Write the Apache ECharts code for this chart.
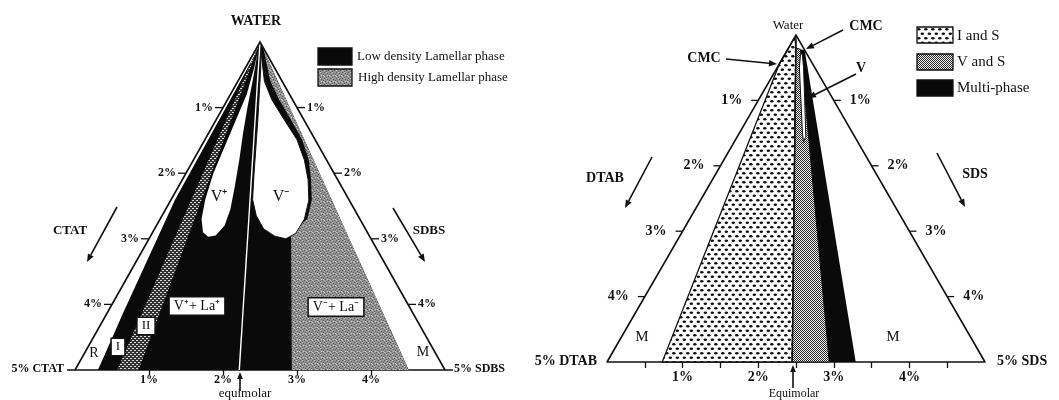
<!DOCTYPE html>
<html>
<head>
<meta charset="utf-8">
<script src="https://cdn.jsdelivr.net/npm/echarts@6/dist/echarts.min.js"></script>
<style>
  html, body { margin: 0; padding: 0; background: #fff; }
  #chart { width: 1059px; height: 400px; }
</style>
</head>
<body>
<div id="chart"></div>
<script>
// ---------------------------------------------------------------
// Water-rich corners of two catanionic phase diagrams.
// Every point is a composition [cationic wt %, anionic wt %];
// water makes up the rest. The triangles span 0-5 % surfactant.
// ---------------------------------------------------------------

// ---- CTAT / SDBS / water ----
const catOutline      = [[5, 0], [0, 0], [0, 5]];
const catLamellar     = [[0, 0], [0.17, 0.03], [0.96, 0.04], [2.355, 0.055], [3.915, 0.215],
                         [4.69, 0.31], [0.49, 4.51]];                   // low density lamellar
const catBandII       = [[0, 0], [4.43, 0.57], [4.14, 0.86]];          // region II strip
const catHighDensity  = [[2.07, 2.93], [0.49, 4.51], [0.01, 0.11], [0.16, 0.44], [0.18, 0.70],
                         [0.175, 1.015], [0.175, 1.315], [0.24, 1.56], [0.36, 1.74], [0.505, 1.905],
                         [0.71, 1.99], [1.03, 1.87]];
const catVplus        = [[0.105, 0.045], [0.40, 0.20], [0.67, 0.33], [0.93, 0.47], [1.18, 0.62],
                         [1.44, 0.76], [1.675, 0.875], [1.88, 0.92], [2.075, 0.875], [2.185, 0.785],
                         [2.22, 0.68], [2.14, 0.56], [1.94, 0.46], [1.63, 0.37], [1.28, 0.32],
                         [0.93, 0.27], [0.58, 0.22], [0.28, 0.12]];
const catVminus       = [[0.05, 0.07], [0.24, 0.36], [0.28, 0.60], [0.265, 0.925], [0.245, 1.245],
                         [0.30, 1.50], [0.40, 1.70], [0.545, 1.865], [0.75, 1.95], [0.98, 1.94],
                         [1.15, 1.85], [1.28, 1.68], [1.375, 1.475], [1.375, 1.275], [1.30, 1.10],
                         [1.08, 0.92], [0.855, 0.745], [0.63, 0.57], [0.41, 0.39], [0.19, 0.21]];
const catEquimolar    = [[0, 0], [2.78, 2.22]];
const catSideTicks    = [1, 2, 3, 4];
const catBaseTicks    = [1, 2, 3, 4];

// ---- DTAB / SDS / water ----
const dsOutline       = [[5, 0], [0, 0], [0, 5]];
const dsIandS         = [[0.05, 0], [0.43, 0], [4.27, 0.73], [2.55, 2.45], [0.06, 0.058]];
const dsVandS         = [[0.102, 0.098], [0.05, 0.17], [2.06, 2.94], [2.55, 2.45]];
const dsMulti         = [[0.05, 0.17], [0, 0.23], [1.71, 3.29], [2.06, 2.94]];
const dsVesicle       = [[0.08, 0.20], [0.205, 0.295], [0.435, 0.565], [0.665, 0.835], [0.72, 0.92],
                         [0.645, 0.905], [0.385, 0.615], [0.15, 0.35], [0.065, 0.235]];
const dsEquimolar     = [[0, 0], [2.55, 2.45]];
const dsSideTicks     = [1, 2, 3, 4];
const dsBaseTicks     = [0.5, 1, 1.5, 2, 2.5, 3, 3.5, 4, 4.5];
const dsBaseLabels    = [1, 2, 3, 4];

// composition -> [position along the base (%), height above the 5 % line]
const toXY = ([c, s]) => [2.5 + (s - c) / 2, 5 - c - s];

const SERIF = '"Liberation Serif", "Times New Roman", serif';
const INK = '#111';

// ---- fill textures ----
function tile(w, h, paint) {
  const cv = document.createElement('canvas');
  cv.width = w; cv.height = h;
  paint(cv.getContext('2d'));
  return { image: cv, repeat: 'repeat' };
}
const speckleGray = tile(6, 6, g => {
  g.fillStyle = '#929292'; g.fillRect(0, 0, 6, 6);
  g.fillStyle = '#5a5a5a';
  [[0, 0], [3, 1], [1, 3], [4, 4], [5, 2], [2, 5]].forEach(([x, y]) => g.fillRect(x, y, 1, 1));
  g.fillStyle = '#cacaca';
  [[2, 0], [5, 3], [0, 4], [3, 3]].forEach(([x, y]) => g.fillRect(x, y, 1, 1));
});
const dottedDark = tile(4, 4, g => {
  g.fillStyle = '#333'; g.fillRect(0, 0, 4, 4);
  g.fillStyle = '#d8d8d8';
  g.fillRect(0, 0, 2, 1); g.fillRect(2, 2, 2, 1);
});
const dotsOnWhite = tile(7, 9, g => {
  g.fillStyle = '#fff'; g.fillRect(0, 0, 7, 9);
  g.fillStyle = '#111';
  g.beginPath(); g.ellipse(1.8, 2.2, 1.75, 1.3, 0, 0, Math.PI * 2); g.fill();
  g.beginPath(); g.ellipse(5.3, 6.7, 1.75, 1.3, 0, 0, Math.PI * 2); g.fill();
});
const zigzag = tile(4, 4, g => {
  g.fillStyle = '#f2f2f2'; g.fillRect(0, 0, 4, 4);
  g.fillStyle = '#2a2a2a';
  [[0, 0], [1, 1], [2, 0], [3, 1], [0, 2], [1, 3], [2, 2], [3, 3]].forEach(([x, y]) => g.fillRect(x, y, 1, 1));
});

// ---- series builders ----
let zCount = 1;
function polygon(grid, pts, style, closed = true) {
  return {
    type: 'custom', coordinateSystem: 'cartesian2d',
    xAxisIndex: grid, yAxisIndex: grid, silent: true, clip: false, z: zCount++,
    data: [[0, 0]],
    renderItem: (params, api) => ({
      type: closed ? 'polygon' : 'polyline',
      shape: { points: pts.map(p => api.coord(toXY(p))) },
      style: closed ? style : Object.assign({ fill: null }, style)
    })
  };
}
// percentage ticks on the two slanted sides
function sideTicks(grid, values, opt) {
  return {
    type: 'custom', coordinateSystem: 'cartesian2d',
    xAxisIndex: grid, yAxisIndex: grid, silent: true, clip: false, z: 50,
    data: values.map(v => [v, 0]),
    renderItem: (params, api) => {
      const v = api.value(0);
      const items = [];
      [[-1, [v, 0]], [1, [0, v]]].forEach(([dir, comp]) => {
        const [px, py] = api.coord(toXY(comp));
        items.push({ type: 'line',
          shape: { x1: px + dir * opt.inset, y1: py, x2: px + dir * (opt.inset + opt.len), y2: py },
          style: { stroke: INK, lineWidth: 1.3 } });
        items.push({ type: 'text',
          style: { text: v + '%', x: px + dir * (opt.inset + opt.len + opt.gap), y: py,
                   align: dir < 0 ? 'right' : 'left', verticalAlign: 'middle',
                   font: opt.font, fill: INK } });
      });
      return { type: 'group', children: items };
    }
  };
}

// ---- annotation helpers ----
function text(t, x, y, font, align = 'center', extra = {}) {
  return { type: 'text', z: 100, silent: true,
    style: Object.assign({ text: t, x, y, font, fill: INK, align, verticalAlign: 'middle' }, extra) };
}
function boxed(t, x, y, font) {
  return text(t, x, y, font, 'center', {
    backgroundColor: '#fff', borderColor: INK, borderWidth: 1.5, padding: [2, 4, 1, 4]
  });
}
function arrow(x1, y1, x2, y2, head = 8) {
  const a = Math.atan2(y2 - y1, x2 - x1);
  const hx = x2 - head * Math.cos(a), hy = y2 - head * Math.sin(a);
  const w = head * 0.4;
  return [
    { type: 'line', z: 100, silent: true, shape: { x1, y1, x2: hx, y2: hy }, style: { stroke: INK, lineWidth: 1.6 } },
    { type: 'polygon', z: 100, silent: true,
      shape: { points: [[x2, y2], [hx + w * Math.sin(a), hy - w * Math.cos(a)], [hx - w * Math.sin(a), hy + w * Math.cos(a)]] },
      style: { fill: INK } }
  ];
}
function swatch(x, y, w, h, fill) {
  return { type: 'rect', z: 100, silent: true, shape: { x, y, width: w, height: h },
           style: { fill, stroke: INK, lineWidth: 1.3 } };
}

const tickFontL = 'bold 12px ' + SERIF;
const tickFontR = 'bold 14px ' + SERIF;

const option = {
  animation: false,
  backgroundColor: '#fff',
  grid: [
    { left: 67.6, top: 42, width: 384.8, height: 328 },
    { left: 607, top: 35, width: 378, height: 327 }
  ],
  xAxis: [
    { gridIndex: 0, type: 'value', min: -0.1, max: 5.1,
      axisLine: { show: true, lineStyle: { color: INK, width: 1.6 } },
      splitLine: { show: false },
      axisTick: { show: true, customValues: catBaseTicks, length: 5, lineStyle: { color: INK, width: 1.3 } },
      axisLabel: { customValues: catBaseTicks, formatter: v => v + '%', margin: 4,
                   color: INK, fontFamily: SERIF, fontWeight: 'bold', fontSize: 12 } },
    { gridIndex: 1, type: 'value', min: 0, max: 5,
      axisLine: { show: true, lineStyle: { color: INK, width: 1.6 } },
      splitLine: { show: false },
      axisTick: { show: true, customValues: dsBaseTicks, length: 6, lineStyle: { color: INK, width: 1.3 } },
      axisLabel: { customValues: dsBaseLabels, formatter: v => v + '%', margin: 8,
                   color: INK, fontFamily: SERIF, fontWeight: 'bold', fontSize: 14 } }
  ],
  yAxis: [
    { gridIndex: 0, type: 'value', min: 0, max: 5, show: false },
    { gridIndex: 1, type: 'value', min: 0, max: 5, show: false }
  ],
  series: [
    // CTAT / SDBS
    polygon(0, catLamellar, { fill: '#0a0a0a' }),
    polygon(0, catBandII, { fill: dottedDark }),
    polygon(0, catHighDensity, { fill: speckleGray }),
    polygon(0, catVplus, { fill: '#fff' }),
    polygon(0, catVminus, { fill: '#fff', stroke: INK, lineWidth: 1 }),
    polygon(0, catEquimolar, { stroke: '#fff', lineWidth: 1.4 }, false),
    polygon(0, catOutline, { stroke: INK, lineWidth: 1.6 }, false),
    sideTicks(0, catSideTicks, { inset: 0, len: 8, gap: 2, font: tickFontL }),
    // DTAB / SDS
    polygon(1, dsIandS, { fill: dotsOnWhite, stroke: INK, lineWidth: 1.3 }),
    polygon(1, dsVandS, { fill: zigzag, stroke: INK, lineWidth: 1 }),
    polygon(1, dsMulti, { fill: '#0a0a0a' }),
    polygon(1, dsVesicle, { fill: '#fff', stroke: INK, lineWidth: 1 }),
    polygon(1, dsEquimolar, { stroke: INK, lineWidth: 1.5 }, false),
    polygon(1, dsOutline, { stroke: INK, lineWidth: 1.6 }, false),
    sideTicks(1, dsSideTicks, { inset: 0, len: 7, gap: 9, font: tickFontR })
  ],
  graphic: { elements: [
    // ---- CTAT / SDBS annotations ----
    text('WATER', 256, 21, 'bold 14px ' + SERIF),
    swatch(318, 48, 34, 17, '#0a0a0a'),
    swatch(318, 69, 34, 17, speckleGray),
    text('Low density Lamellar phase', 357, 57, '13px ' + SERIF, 'left'),
    text('High density Lamellar phase', 358, 78, '13px ' + SERIF, 'left'),
    text('CTAT', 70, 231, 'bold 13px ' + SERIF),
    ...arrow(117, 207, 87, 262),
    text('SDBS', 429, 231, 'bold 13px ' + SERIF),
    ...arrow(393, 208, 425, 262),
    text('V⁺', 219, 197, '16px ' + SERIF),
    text('V⁻', 281, 197, '16px ' + SERIF),
    boxed('V⁺+ La⁺', 197, 306, '14px ' + SERIF),
    boxed('V⁻+ La⁻', 336, 307, '14px ' + SERIF),
    boxed('II', 146, 326, '13px ' + SERIF),
    boxed('I', 118, 347, '13px ' + SERIF),
    text('R', 94, 353, '14px ' + SERIF),
    text('M', 423, 352, '14px ' + SERIF),
    text('5% CTAT', 64, 369, 'bold 12px ' + SERIF, 'right'),
    text('5% SDBS', 454, 369, 'bold 12px ' + SERIF, 'left'),
    ...arrow(240, 391, 240, 372, 7),
    text('equimolar', 245, 394, '13px ' + SERIF),

    // ---- DTAB / SDS annotations ----
    text('Water', 788, 26, '13px ' + SERIF),
    text('CMC', 866, 26, 'bold 14px ' + SERIF),
    ...arrow(843, 30, 806, 49),
    text('CMC', 704, 58, 'bold 14px ' + SERIF),
    ...arrow(726, 59, 777, 64),
    text('V', 861, 68, 'bold 14px ' + SERIF),
    ...arrow(856, 74, 808, 98),
    swatch(917, 27, 36, 16, dotsOnWhite),
    swatch(917, 54, 36, 16, zigzag),
    swatch(917, 80, 36, 16, '#0a0a0a'),
    text('I and S', 957, 36, '15px ' + SERIF, 'left'),
    text('V and S', 957, 62, '15px ' + SERIF, 'left'),
    text('Multi-phase', 957, 88, '15px ' + SERIF, 'left'),
    text('DTAB', 605, 178, 'bold 14px ' + SERIF),
    ...arrow(652, 157, 625, 208),
    text('SDS', 975, 174, 'bold 14px ' + SERIF),
    ...arrow(937, 153, 965, 207),
    text('M', 642, 337, '15px ' + SERIF),
    text('M', 893, 337, '15px ' + SERIF),
    text('5% DTAB', 597, 361, 'bold 14px ' + SERIF, 'right'),
    text('5% SDS', 997, 361, 'bold 14px ' + SERIF, 'left'),
    ...arrow(793, 388, 793, 365, 7),
    text('Equimolar', 794, 394, '12px ' + SERIF)
  ] }
};

const chart = echarts.init(document.getElementById('chart'));
chart.setOption(option);
</script>
</body>
</html>
